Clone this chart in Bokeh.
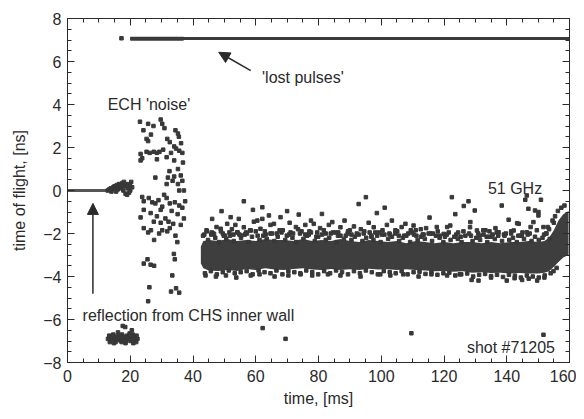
from bokeh.plotting import figure
from bokeh.models import LinearAxis, FixedTicker, Label, Arrow, NormalHead, Range1d, CustomLabelingPolicy
from bokeh.embed import file_html
from bokeh.resources import INLINE

# ---------------- data ----------------
x_ticks = [0, 20, 40, 60, 80, 100, 120, 140, 160]
y_ticks = [-8, -6, -4, -2, 0, 2, 4, 6, 8]
x_minor = [v * 5 for v in range(0, 33)]
y_minor = [v * 0.5 - 8 for v in range(0, 33)]

# reflection from the wall before the plasma (flat line at 0)
zero_x = [0.0, 12.7]
zero_y = [0.0, 0.0]
zero_noise_x = [12.8, 13.3, 13.8, 14.2, 14.6, 15.0, 15.3, 15.7, 16.0, 16.4, 16.8, 17.1, 17.5, 17.8,
                18.2, 18.5, 18.9, 19.2, 19.6, 19.9, 20.3, 20.6, 14.0, 15.5, 17.0, 18.0, 19.0, 20.0]
zero_noise_y = [0.0, 0.05, 0.1, 0.05, 0.15, 0.2, 0.1, 0.25, 0.05, 0.3, 0.15, 0.1, 0.35, 0.0,
                0.2, -0.15, 0.3, 0.1, -0.1, 0.25, 0.4, 0.15, -0.05, -0.05, 0.2, 0.4, -0.2, 0.0]

# 'lost pulses'
lost_x = [20.0, 160.0]
lost_y = [7.07, 7.07]
lost_thick_x = [20.0, 37.0]
lost_thick_y = [7.06, 7.06]
lost_dot_x = [17.2]
lost_dot_y = [7.08]

# cluster near -7 ns
wall_x = [12.9, 13.3, 13.6, 14.0, 14.3, 14.6, 15.0, 15.3, 15.7, 16.0, 16.3, 16.7, 17.0, 17.4, 17.7,
          18.0, 18.4, 18.7, 19.0, 19.4, 19.7, 20.1, 20.4, 20.8, 21.1, 21.5, 21.9, 22.3,
          13.5, 14.8, 16.1, 17.3, 18.5, 19.8, 21.0, 22.0, 17.6, 18.4, 20.5]
wall_y = [-6.9, -6.75, -7.0, -6.8, -6.95, -6.7, -6.85, -7.05, -6.8, -6.95, -6.75, -6.9, -7.0, -6.7, -6.85,
          -6.95, -6.8, -7.0, -6.75, -6.9, -6.85, -7.0, -6.8, -6.7, -6.95, -6.85, -7.05, -6.9,
          -7.05, -7.1, -6.6, -7.05, -7.1, -6.65, -7.1, -6.75, -6.3, -6.35, -6.5]

# ECH 'noise'
ech_x = [23.1, 25.7, 27.4, 29.7, 30.2, 24.2, 25.2, 25.7, 31.8, 32.6, 34.4, 35.2, 35.5,
         23.3, 23.8, 25.2, 26.2, 27.5, 28.5, 29.3, 30.5, 31.6, 33.0, 34.0, 34.6, 35.6, 36.6, 23.3,
         28.5, 34.0, 35.2, 32.5, 34.0, 32.0, 36.1, 31.6, 33.5, 35.2, 35.6, 36.6, 37.1, 28.0, 36.8,
         36.2, 30.9, 26.6,
         24.3, 25.9, 27.0, 28.0, 29.0, 29.7, 30.2, 28.5, 26.5, 23.3, 24.3, 31.6, 32.6, 33.2, 34.2,
         35.6, 36.6, 37.1, 35.1, 27.5, 29.7, 31.2, 32.2, 33.7, 24.3, 25.7, 26.6, 29.2, 30.2, 31.8,
         32.6, 34.4, 27.6, 33.9, 25.5, 26.5, 27.6, 24.3, 34.2, 33.4, 26.1, 33.0, 34.6, 35.6, 25.7,
         36.1, 37.5, 30.8, 23.8, 35.0]
ech_y = [3.2, 3.1, 3.0, 3.3, 3.1, 2.8, 2.4, 2.3, 2.4, 2.25, 2.8, 2.65, 2.5,
         1.7, 1.5, 1.8, 1.75, 1.8, 1.75, 1.8, 1.9, 1.55, 1.75, 2.05, 1.95, 1.85, 1.75, 1.4,
         1.45, 1.4, 1.0, 0.9, 0.65, 0.6, 0.7, 0.3, 0.45, 0.3, 0.0, 0.45, 0.0, 0.6, 1.3,
         2.2, 2.9, 2.6,
         -0.5, -0.35, -0.55, -0.6, -0.45, -0.9, -0.75, -1.2, -1.05, -1.25, -0.9, -0.35, -0.6, -0.95, -0.55,
         -0.7, -0.8, -1.3, -1.1, -1.45, -1.5, -1.3, -1.45, -1.55, -1.75, -1.95, -1.85, -2.0, -1.85, -1.9,
         -1.75, -2.1, -2.3, -2.95, -3.2, -3.45, -3.5, -3.4, -3.2, -3.95, -4.5, -4.7, -4.55, -4.75, -5.15,
         -1.6, -0.5, -0.2, -0.3, -2.4]

# dense 51 GHz band: core envelope
band_x = [42.5, 43.3, 45, 48, 51, 54, 57, 60, 63, 66, 69, 72, 75, 78, 81, 84, 87, 90, 93, 96, 99,
          102, 105, 108, 111, 114, 117, 120, 123, 126, 129, 132, 135, 138, 141, 144, 147, 150, 152,
          153.5, 155, 156.5, 158, 159.7]
band_top = [-2.6, -2.35, -2.3, -2.35, -2.25, -2.35, -2.3, -2.35, -2.25, -2.3, -2.3, -2.35, -2.25, -2.35,
            -2.3, -2.35, -2.25, -2.35, -2.4, -2.3, -2.35, -2.4, -2.35, -2.45, -2.35, -2.4, -2.45, -2.4,
            -2.45, -2.4, -2.4, -2.45, -2.4, -2.45, -2.4, -2.4, -2.35, -2.4, -2.35, -2.2, -1.85, -1.4,
            -1.1, -0.95]
band_bot = [-3.4, -3.62, -3.72, -3.74, -3.7, -3.74, -3.65, -3.7, -3.62, -3.68, -3.7, -3.65, -3.62, -3.68,
            -3.7, -3.65, -3.7, -3.66, -3.7, -3.64, -3.68, -3.66, -3.7, -3.66, -3.7, -3.72, -3.76, -3.74,
            -3.78, -3.76, -3.82, -3.8, -3.84, -3.82, -3.86, -3.84, -3.86, -3.86, -3.82, -3.76, -3.55, -3.32,
            -3.12, -3.0]

# ragged upper edge of the band
top_edge_x = [43.6, 44.8, 46.0, 47.1, 48.3, 49.5, 50.6, 51.8, 53.0, 54.2,
              55.3, 56.5, 57.7, 58.8, 60.0, 61.2, 62.4, 63.5, 64.7, 65.9,
              67.0, 68.2, 69.4, 70.6, 71.7, 72.9, 74.1, 75.2, 76.4, 77.6,
              78.8, 79.9, 81.1, 82.3, 83.4, 84.6, 85.8, 87.0, 88.1, 89.3,
              90.5, 91.6, 92.8, 94.0, 95.2, 96.3, 97.5, 98.7, 99.8, 101.0,
              102.2, 103.4, 104.5, 105.7, 106.9, 108.0, 109.2, 110.4, 111.6, 112.7,
              113.9, 115.1, 116.2, 117.4, 118.6, 119.8, 120.9, 122.1, 123.3, 124.4,
              125.6, 126.8, 128.0, 129.1, 130.3, 131.5, 132.6, 133.8, 135.0, 136.2,
              137.3, 138.5, 139.7, 140.8, 142.0, 143.2, 144.4, 145.5, 146.7, 147.9,
              149.0, 150.2, 151.4, 152.6, 153.7]
top_edge_y = [-2.05, -2.3, -1.95, -2.2, -2.4, -2.0, -2.25, -2.1, -2.35, -1.95,
              -2.2, -2.05, -2.4, -2.15, -1.9, -2.3, -2.1, -2.25, -2.0, -2.35,
              -2.15, -1.95, -2.3, -2.05, -2.2, -2.4, -2.0, -2.25, -2.1, -1.95,
              -2.35, -2.15, -2.05, -2.3, -2.2, -1.95, -2.4, -2.1, -2.25, -2.0,
              -2.3, -2.15, -2.05, -2.35, -2.2, -1.95, -2.3, -2.1, -2.4, -2.05,
              -2.25, -2.15, -2.0, -2.35, -2.2, -2.1, -2.4, -2.05, -2.3, -2.15,
              -2.25, -2.0, -2.35, -2.1, -2.2, -2.4, -2.05, -2.3, -2.15, -2.25,
              -2.4, -2.1, -2.0, -2.35, -2.2, -2.3, -2.05, -2.4, -2.15, -2.25,
              -2.1, -2.35, -2.0, -2.3, -2.2, -2.4, -2.1, -2.25, -2.05, -2.35,
              -2.15, -2.3, -2.2, -2.0, -2.25]
top_edge2_x = [44.3, 46.4, 48.9, 50.2, 52.4, 54.8, 56.9, 58.2, 60.6, 62.9,
               65.2, 67.6, 69.9, 71.1, 73.5, 75.8, 77.1, 79.3, 81.7, 83.9,
               86.3, 88.7, 90.0, 92.2, 94.6, 96.9, 98.1, 100.4, 102.8, 105.1,
               107.3, 109.8, 111.0, 113.2, 115.7, 118.0, 120.3, 121.5, 123.9, 126.2,
               128.6, 130.9, 133.2, 134.4, 136.8, 139.1, 141.4, 143.7, 145.0, 147.3,
               149.6, 151.9, 153.1, 155.0]
top_edge2_y = [-1.85, -2.0, -1.9, -2.1, -1.8, -2.05, -1.95, -1.85, -2.1, -1.9,
               -2.0, -1.85, -2.1, -1.95, -1.8, -2.05, -1.9, -2.15, -1.85, -2.0,
               -1.95, -2.1, -1.85, -2.0, -1.9, -2.15, -1.95, -1.85, -2.05, -1.9,
               -2.1, -1.95, -1.85, -2.05, -2.0, -1.9, -2.15, -1.95, -2.05, -1.9,
               -2.1, -2.0, -1.85, -2.15, -1.95, -2.05, -1.9, -2.1, -1.95, -2.0,
               -1.85, -2.05, -1.7, -1.5]

# ragged lower edge of the band
bot_edge_x = [43.8, 45.7, 47.6, 49.5, 51.4, 53.3, 55.2, 57.1, 59.0, 60.9,
              62.8, 64.7, 66.6, 68.5, 70.4, 72.3, 74.2, 76.1, 78.0, 79.9,
              81.8, 83.7, 85.6, 87.5, 89.4, 91.3, 93.2, 95.1, 97.0, 98.9,
              100.8, 102.7, 104.6, 106.5, 108.4, 110.3, 112.2, 114.1, 116.0, 117.9,
              119.8, 121.7, 123.6, 125.5, 127.4, 129.3, 131.2, 133.1, 135.0, 136.9,
              138.8, 140.7, 142.6, 144.5, 146.4, 148.3, 150.2, 152.1, 154.0, 155.9]
bot_edge_y = [-3.85, -3.75, -3.9, -3.8, -3.72, -3.85, -3.8, -3.75, -3.9, -3.72,
              -3.8, -3.85, -3.72, -3.9, -3.75, -3.8, -3.85, -3.72, -3.8, -3.9,
              -3.75, -3.85, -3.72, -3.8, -3.9, -3.75, -3.85, -3.72, -3.8, -3.9,
              -3.75, -3.8, -3.85, -3.75, -3.9, -3.8, -3.78, -3.88, -3.8, -3.92,
              -3.85, -3.82, -3.95, -3.9, -3.86, -4.0, -3.92, -3.88, -3.98, -3.92,
              -4.02, -3.92, -3.96, -4.05, -3.95, -4.0, -4.05, -3.95, -3.85, -3.6]

# scattered points around the band
fringe_x = [43.2, 44.5, 45.8, 46.1, 46.7, 47.5, 48.8, 49.1, 49.8, 50.9, 51.6, 52.0, 52.9, 53.5, 54.1,
            54.6, 55.3, 56.2, 56.2, 57.2, 58.4, 59.1, 59.4, 60.5, 61.5, 62.1, 62.1, 63.2, 64.2, 64.7,
            65.8, 66.7, 67.9, 68.6, 70.0, 70.8, 71.9, 72.8, 73.7, 74.6, 75.8, 76.9, 77.6, 78.5, 79.6,
            80.5, 81.1, 82.3, 83.3, 84.4, 85.5, 86.2, 87.0, 88.3, 89.4, 90.5, 91.3, 92.8, 93.5, 94.4,
            95.1, 96.0, 96.8, 97.6, 98.6, 99.3, 100.2, 101.1, 101.8, 102.6, 103.4, 104.5, 105.6, 106.5,
            107.7, 108.6, 109.4, 110.3, 111.2, 112.6, 113.5, 114.3, 115.4, 116.4, 117.7, 118.6, 119.9,
            121.0, 122.0, 122.5, 123.6, 124.5, 125.3, 126.3, 127.8, 128.3, 128.4, 129.8, 130.5, 131.4,
            132.5, 133.6, 134.5, 135.5, 136.4, 137.4, 138.4, 139.3, 140.6, 141.4, 142.2, 143.3, 143.8,
            144.8, 145.9, 146.4, 146.4, 146.9, 147.6, 148.5, 149.0, 150.1, 150.1, 150.9, 151.7, 152.6,
            153.5, 154.6, 155.4, 156.3, 157.4, 158.4,
            44.0, 47.3, 50.5, 53.8, 58.4, 61.2, 66.0, 70.4, 74.3, 78.0, 83.0, 87.0, 93.4, 99.7, 102.9,
            107.0, 111.9, 116.0, 121.0, 125.0, 128.8, 131.0, 135.0, 140.0, 142.5, 144.9, 147.0, 149.7,
            152.0, 154.9,
            62.2, 69.5, 109.6, 151.7]
fringe_y = [-2.1, -1.9, -2.05, -1.32, -2.02, -1.7, -1.78, -0.96, -2.1, -1.55, -1.95, -1.24, -2.05, -1.6, -1.94,
            -1.32, -2.1, -0.5, -1.71, -2.0, -1.86, -0.9, -1.45, -1.4, -1.78, -0.78, -1.32, -2.05, -1.16, -1.6,
            -1.55, -2.0, -1.24, -1.85, -0.96, -1.5, -2.0, -1.7, -1.12, -1.9, -1.6, -2.05, -1.4, -1.55, -1.95,
            -1.75, -1.09, -2.0, -1.6, -1.47, -1.95, -2.1, -1.71, -1.4, -1.9, -2.05, -1.67, -0.63, -1.8, -2.0,
            -0.31, -1.5, -2.1, -1.71, -1.05, -1.95, -2.05, -0.8, -1.6, -2.0, -1.4, -1.85, -2.1, -1.7,
            -1.55, -2.0, -1.85, -1.63, -2.1, -1.8, -2.05, -1.75, -1.26, -2.0, -1.7, -2.1, -2.02,
            -1.7, -1.63, -0.31, -1.1, -1.95, -2.15, -0.72, -0.5, -1.71, -1.47, -0.93, -1.86, -2.1,
            -1.85, -2.15, -1.9, -2.05, -1.75, -1.94, -0.7, -2.1, -1.36, -2.0, -1.86, -1.52, -1.55,
            -2.1, -0.43, -0.23, -1.94, -0.85, -1.7, -1.47, -0.93, -1.0, -1.16, -0.43, -1.7, -2.0,
            -1.8, -1.4, -1.2, -0.95, -0.8, -0.7,
            -3.95, -4.0, -3.95, -4.05, -3.95, -3.9, -4.0, -3.95, -3.9, -3.95, -3.9, -3.95, -4.0, -3.9, -3.95,
            -3.9, -4.0, -3.9, -3.95, -3.9, -4.16, -4.19, -4.05, -4.19, -4.08, -4.16, -4.1, -4.19,
            -4.05, -3.75,
            -6.4, -6.9, -6.64, -6.71]

# annotation positions (data units)
ech_label = (12.8, 4.0)
lost_label = (62.0, 5.25)
ghz_label = (134.0, 0.1)
wall_label = (4.8, -5.8)
shot_label = (127.3, -7.3)
lost_arrow = (58.4, 5.58, 48.2, 6.43)
wall_arrow = (8.1, -4.8, 8.1, -0.6)

INK = "#2a2a2a"
DOT = "#383838"
FONT = "Liberation Sans"
FS = "16px"

p = figure(width=576, height=411, x_range=Range1d(0, 160), y_range=Range1d(-8, 8),
           output_backend="svg", toolbar_location=None,
           min_border_left=67, min_border_right=7, min_border_top=18, min_border_bottom=49,
           x_axis_label="time, [ms]", y_axis_label="time of flight, [ns]")
p.xgrid.visible = False
p.ygrid.visible = False
p.outline_line_color = INK
p.background_fill_color = "white"
p.border_fill_color = "white"


def style(ax, ticks, minor, labels=True):
    ax.ticker = FixedTicker(ticks=ticks, minor_ticks=minor)
    ax.major_tick_in = 7
    ax.major_tick_out = 0
    ax.minor_tick_in = 4
    ax.minor_tick_out = 0
    ax.axis_line_color = INK
    ax.major_tick_line_color = INK
    ax.minor_tick_line_color = INK
    ax.major_label_text_font = FONT
    ax.major_label_text_color = INK
    ax.axis_label_text_font = FONT
    ax.axis_label_text_font_style = "normal"
    ax.axis_label_text_color = INK
    ax.axis_label_text_font_size = FS
    if labels:
        ax.major_label_text_font_size = FS
    else:
        ax.major_label_text_font_size = "0px"
        ax.major_label_policy = CustomLabelingPolicy(code="return []")
        ax.major_label_standoff = 0


style(p.xaxis[0], x_ticks, x_minor)
style(p.yaxis[0], y_ticks, y_minor)
p.xaxis[0].major_label_standoff = 7
p.xaxis[0].axis_label_standoff = 5
p.yaxis[0].major_label_standoff = 6
p.yaxis[0].axis_label_standoff = 12

top_ax = LinearAxis()
style(top_ax, x_ticks, x_minor, labels=False)
p.add_layout(top_ax, "above")
right_ax = LinearAxis()
style(right_ax, y_ticks, y_minor, labels=False)
p.add_layout(right_ax, "right")

# glyphs
p.varea(x=band_x, y1=band_bot, y2=band_top, fill_color="#3e3e3e")
p.line(zero_x, zero_y, line_width=3, color="#555555")
p.line(lost_x, lost_y, line_width=3, color="#3a3a3a")
p.line(lost_thick_x, lost_thick_y, line_width=4, color="#3a3a3a")
for xs, ys in [(lost_dot_x, lost_dot_y), (zero_noise_x, zero_noise_y), (wall_x, wall_y),
               (ech_x, ech_y), (top_edge_x, top_edge_y), (top_edge2_x, top_edge2_y),
               (bot_edge_x, bot_edge_y), (fringe_x, fringe_y)]:
    p.scatter(xs, ys, marker="square", size=3.5, color=DOT)

# arrows
for (xs, ys, xe, ye) in [lost_arrow, wall_arrow]:
    p.add_layout(Arrow(end=NormalHead(size=11, fill_color=INK, line_color=INK, line_width=1),
                       x_start=xs, y_start=ys, x_end=xe, y_end=ye,
                       line_color=INK, line_width=1.5))

# texts
for (pos, txt) in [(ech_label, "ECH 'noise'"), (lost_label, "'lost pulses'"), (ghz_label, "51 GHz"),
                   (wall_label, "reflection from CHS inner wall"), (shot_label, "shot #71205")]:
    p.add_layout(Label(x=pos[0], y=pos[1], text=txt, text_font=FONT, text_font_size=FS,
                       text_color=INK, text_baseline="middle", text_align="left"))

open("out.html", "w").write(file_html(p, INLINE))
